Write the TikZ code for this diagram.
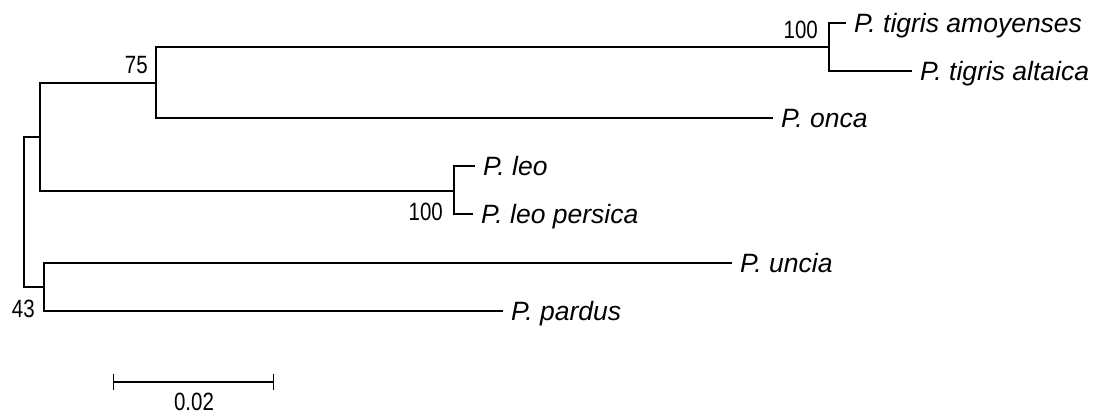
\documentclass[tikz,border=0pt]{standalone}
\usepackage{fontspec}
\setmainfont{Liberation Sans}
\newfontfamily\bootfont[FakeStretch=0.82]{Liberation Sans}
\usetikzlibrary{arrows.meta}

\tikzset{
    branch/.style={line width=1.4pt},
    taxon/.style={anchor=west, inner sep=8pt, text height=19pt, text depth=0pt,
        font=\fontsize{26.5}{30}\selectfont\itshape},
    boot/.style={inner sep=0pt, font=\bootfont\fontsize{25}{28}\selectfont},
}

\begin{document}
\begin{tikzpicture}[x=1pt, y=-1pt]
    \useasboundingbox (0,0) rectangle (1105,416);
    % Internal nodes
    \coordinate (root) at (24,212);
    \coordinate (nA) at (40,137);
    \coordinate (n75) at (156,83);
    \coordinate (nTig) at (829,47);
    \coordinate (nLeo) at (454,191);
    \coordinate (n43) at (44,287);
    % Tips
    \node[taxon] (amoy) at (846,23) {P. tigris amoyenses};
    \node[taxon] (alt) at (912,71) {P. tigris altaica};
    \node[taxon] (onca) at (773,118) {P. onca};
    \node[taxon] (leo) at (475,166) {P. leo};
    \node[taxon] (pers) at (473,214) {P. leo persica};
    \node[taxon] (uncia) at (732,263) {P. uncia};
    \node[taxon] (pardus) at (503,311) {P. pardus};
    % Branches
    \draw[branch] (root) |- (nA);
    \draw[branch] (root) |- (n43);
    \draw[branch] (nA) |- (n75);
    \draw[branch] (nA) |- (nLeo);
    \draw[branch] (n75) |- (nTig);
    \draw[branch] (n75) |- (onca.west);
    \draw[branch] (nTig) |- (amoy.west);
    \draw[branch] (nTig) |- (alt.west);
    \draw[branch] (nLeo) |- (leo.west);
    \draw[branch] (nLeo) |- (pers.west);
    \draw[branch] (n43) |- (uncia.west);
    \draw[branch] (n43) |- (pardus.west);
    % Bootstrap values
    \node[boot, anchor=east] (b75) at (148,65) {75};
    \node[boot, anchor=east] (bTig) at (818,30) {100};
    \node[boot, anchor=east] (bLeo) at (443,212) {100};
    \node[boot, anchor=east] (b43) at (35,309) {43};
    % Scale bar
    \coordinate (sbL) at (113,382);
    \coordinate (sbR) at (274,382);
    \draw[branch, {Bar[width=16pt]}-{Bar[width=16pt]}] (sbL) -- (sbR);
    \node[boot] (sbText) at (194,402) {0.02};
\end{tikzpicture}
\end{document}
